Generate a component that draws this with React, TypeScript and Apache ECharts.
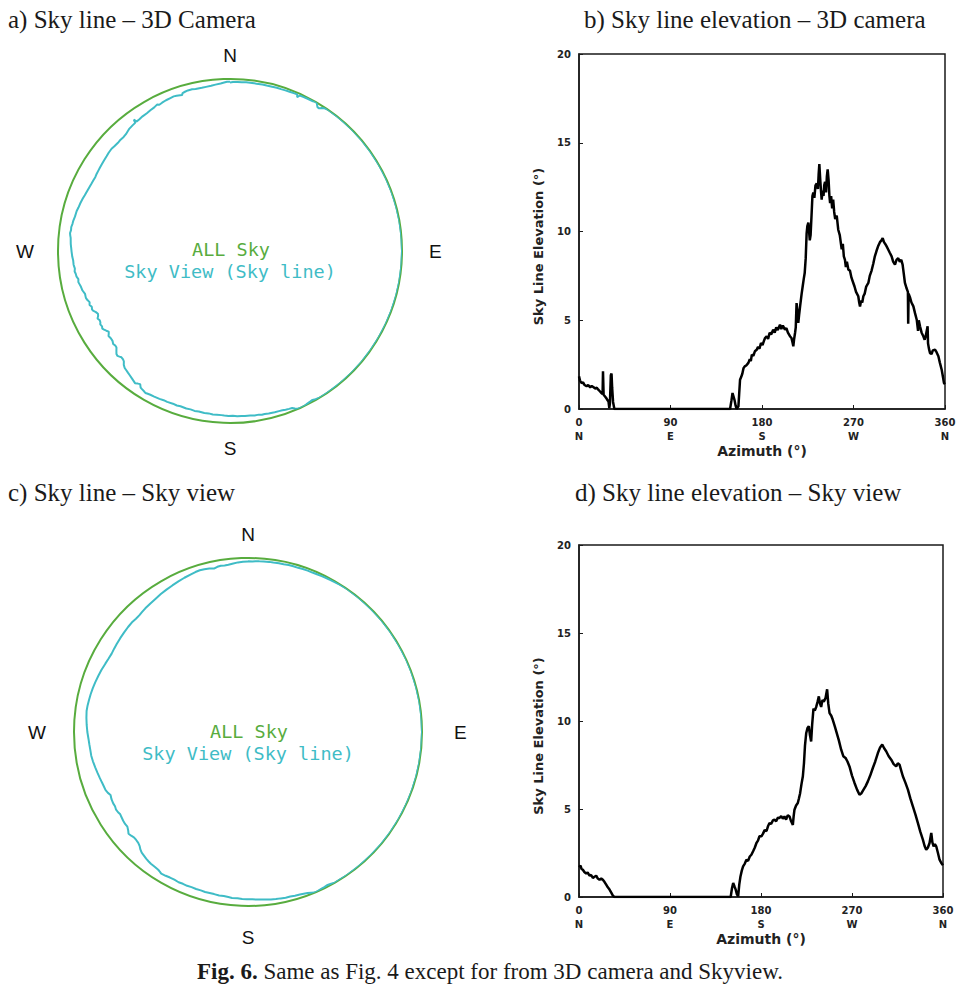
import React, { useEffect, useRef } from "react";
import * as echarts from "echarts";

// ---- data ----
const compassTicks = [0, 90, 180, 270];
const compassNames = ["N", "E", "S", "W"];
const compassStyles = ["n", "e", "s", "w"];
const azimuthTicks = [0, 90, 180, 270, 360];
const azimuthDirs = ["N", "E", "S", "W", "N"];

// [azimuth (deg), sky line elevation (deg)] – 3D camera
const cameraSkyline: [number, number][] = [
  [0, 1.84], [1, 1.6], [2.6, 1.46], [4, 1.5], [5.5, 1.35], [7.5, 1.28], [9, 1.35], [11, 1.22],
  [12.5, 1.3], [14, 1.24], [16, 1.15], [17.5, 1.2], [19, 1.09], [20.5, 1.0], [22, 0.9], [23.2, 0.85],
  [23.6, 2.12], [24.2, 0.8], [25.6, 0.7], [27, 0.6], [28, 0.5], [29, 0.43], [29.8, 0.05], [30.4, 0.3],
  [31.3, 1.9], [32, 2.0], [32.6, 1.2], [33.5, 0.4], [34.8, 0],
  [40, 0], [45, 0], [50, 0], [55, 0], [60, 0], [65, 0], [70, 0], [75, 0], [80, 0], [85, 0], [90, 0],
  [95, 0], [100, 0], [105, 0], [110, 0], [115, 0], [120, 0], [125, 0], [130, 0], [135, 0], [140, 0],
  [145, 0], [148.6, 0],
  [150, 0.5], [151, 0.9], [152, 0.7], [153, 0.5], [154, 0.2], [155, 0], [156.8, 0.15], [157.6, 0.9],
  [158.4, 1.65], [159.5, 1.8], [160.7, 2.0], [161.8, 2.3], [163, 2.4], [164.5, 2.45], [166.6, 2.6],
  [168, 2.8], [169, 2.7], [170, 3.06], [171.5, 3.0], [173, 3.25], [174.8, 3.34], [176, 3.5], [177.5, 3.4],
  [179, 3.72], [180.5, 3.6], [182, 3.85], [183, 4.0], [184.6, 4.1], [186, 3.95], [187.5, 4.3], [189, 4.2],
  [191, 4.47], [192.5, 4.3], [194, 4.6], [195.5, 4.45], [197.7, 4.75], [199, 4.5], [200.5, 4.7],
  [202.6, 4.47], [204, 4.55], [205.5, 4.3], [207.5, 4.1], [209, 4.0], [210.2, 3.7], [210.8, 3.53],
  [211.5, 3.9], [212.5, 4.28], [213.2, 4.6], [214, 5.97], [214.8, 5.5], [215.7, 4.85], [216.5, 5.3],
  [217.5, 5.8], [219, 6.5], [220, 6.9], [221, 7.3], [222, 7.66], [223, 8.5], [223.9, 9.9], [224.6, 10.3],
  [225.6, 10.5], [226.3, 10.0], [227, 9.5], [227.8, 9.8], [228.8, 11.0], [229.6, 12.0], [230.5, 12.2],
  [231.5, 11.9], [232.6, 12.6], [233.8, 12.7], [235, 12.4], [235.7, 13.2], [236.4, 13.8], [237.2, 13.0],
  [238, 12.3], [238.7, 11.8], [239.5, 12.3], [240.5, 12.0], [241.2, 12.6], [242, 12.8], [243, 12.2],
  [243.8, 13.1], [244.6, 13.5], [245.5, 12.9], [246.3, 12.0], [247, 11.6], [248, 12.0], [249, 11.3],
  [250, 11.8], [251, 11.1], [252, 10.7], [253.5, 10.9], [255, 10.1], [256.5, 9.8], [258.4, 9.0],
  [259.5, 9.3], [260.5, 8.6], [261.6, 8.4], [262.5, 8.0], [263.5, 8.3], [265, 7.85], [266.5, 7.8],
  [268, 7.4], [269.8, 7.1], [271, 6.9], [272.5, 6.6], [274.7, 6.35], [275.6, 6.0], [276.4, 5.78],
  [277.5, 6.1], [278.6, 6.0], [279.7, 6.35], [281, 6.5], [282.5, 6.9], [284.6, 7.1], [286, 7.5],
  [287.8, 7.8], [289.5, 8.2], [291, 8.6], [292.6, 8.9], [294.4, 9.2], [296, 9.4], [297.5, 9.5],
  [298.7, 9.63], [300, 9.4], [301.2, 9.3], [302.6, 9.16], [304, 9.0], [305.7, 8.8], [307.5, 8.6],
  [309, 8.3], [310.8, 8.13], [312.3, 8.4], [314, 8.5], [315.5, 8.3], [317, 8.4], [318.3, 8.13],
  [319.5, 7.6], [320.6, 7.1], [322.2, 6.8], [323.5, 6.6], [323.8, 4.8], [324.2, 6.5], [325.5, 6.3],
  [327, 6.0], [328.9, 5.78], [330.5, 5.4], [332.2, 5.03], [333.5, 4.4], [334.2, 5.0], [335.4, 4.66],
  [337, 4.3], [338.7, 4.1], [340, 3.9], [341, 4.1], [342.9, 4.66], [343.3, 3.7], [344.2, 3.4],
  [345.3, 3.15], [346.8, 3.1], [348, 3.3], [350.2, 3.34], [351.7, 3.2], [353.5, 2.97], [355, 2.6],
  [356.8, 2.2], [358, 1.8], [359, 1.46], [360, 1.4],
];

// [azimuth (deg), sky line elevation (deg)] – Sky view
const skyviewSkyline: [number, number][] = [
  [0, 1.7], [1.5, 1.78], [2.5, 1.6], [3.8, 1.55], [5.3, 1.42], [7.1, 1.33], [8.5, 1.4], [10.4, 1.21],
  [12, 1.25], [13.7, 1.08], [15.3, 1.15], [17, 1.21], [18.6, 1.05], [20.3, 0.98], [22, 1.05],
  [23.6, 0.98], [25.3, 0.85], [26.9, 0.7], [28.5, 0.55], [30.2, 0.42], [31.9, 0.25], [33.5, 0.08],
  [35, 0],
  [40, 0], [45, 0], [50, 0], [55, 0], [60, 0], [65, 0], [70, 0], [75, 0], [80, 0], [85, 0], [90, 0],
  [95, 0], [100, 0], [105, 0], [110, 0], [115, 0], [120, 0], [125, 0], [130, 0], [135, 0], [140, 0],
  [145, 0], [150, 0],
  [151.3, 0.5], [152.5, 0.8], [153.8, 0.6], [155, 0.42], [156.2, 0.15], [157.4, 0.04], [158.5, 0.7],
  [159.7, 1.17], [161, 1.5], [162.3, 1.74], [164, 1.9], [165.6, 2.12], [167.2, 2.05], [168.9, 2.3],
  [170.5, 2.4], [172.2, 2.6], [173.8, 2.8], [175.5, 3.07], [177, 3.2], [178.5, 3.45], [180.4, 3.45],
  [182, 3.6], [183.6, 3.8], [185.5, 3.75], [186.8, 4.0], [188.4, 4.2], [190, 4.15], [191.8, 4.35],
  [193.4, 4.4], [195, 4.3], [196.6, 4.5], [198.3, 4.49], [200, 4.6], [201.6, 4.45], [203.2, 4.58],
  [204.8, 4.4], [206.5, 4.65], [208.2, 4.58], [209.8, 4.3], [211.5, 4.1], [212.3, 4.6], [213.1, 4.96],
  [214.7, 5.2], [216.4, 5.34], [217.5, 5.6], [218.7, 5.9], [220, 6.4], [221.4, 6.86], [222.5, 7.6],
  [223.5, 8.6], [224.7, 9.3], [226, 9.6], [227.3, 9.7], [228.4, 9.2], [229.6, 8.84], [230.6, 9.8],
  [231.9, 10.7], [233.2, 10.6], [234.6, 10.8], [236, 11.1], [237.2, 11.4], [238.3, 11.0], [239.5, 10.8],
  [240.8, 11.2], [242.1, 11.1], [243.8, 11.3], [245.4, 11.8], [246.5, 11.0], [247.8, 10.45],
  [249.5, 10.3], [251, 10.07], [253, 9.7], [255, 9.3], [257, 8.9], [259.3, 8.37], [261.4, 8.0],
  [263.6, 7.9], [265.5, 7.7], [267.5, 7.42], [270, 6.9], [272.5, 6.48], [275, 6.1], [277.4, 5.81],
  [279.4, 5.9], [281.4, 6.1], [283.5, 6.3], [285.7, 6.57], [288, 6.9], [290.6, 7.33], [293, 7.7],
  [295.6, 8.18], [297.8, 8.5], [299.9, 8.66], [301.8, 8.45], [303.8, 8.28], [306.3, 8.0], [308.8, 7.8],
  [311.2, 7.55], [313.7, 7.42], [315.3, 7.6], [317, 7.52], [318.6, 7.2], [320.3, 6.86], [322.8, 6.5],
  [325.3, 6.1], [327.7, 5.6], [330.2, 5.15], [332.7, 4.7], [335.2, 4.2], [337.6, 3.7], [340.1, 3.26],
  [341.8, 2.9], [343.4, 2.69], [345, 2.8], [346.7, 3.07], [348.4, 3.64], [349.5, 3.1], [350.7, 2.88],
  [352, 3.0], [353.3, 2.88], [355, 2.5], [356.6, 2.12], [358.3, 1.93], [360, 1.8],
];

const GREEN = "#58ac3e";
const TEAL = "#3fbcc6";
const INK = "#1a1a1a";
const SANS = "DejaVu Sans";
const MONO = "DejaVu Sans Mono";
const SERIF = "Liberation Serif";

function polarAxes(idx: number, pad: { n: number; e: number; s: number; w: number }) {
  const compassFont = { fontSize: 19, fontFamily: "Liberation Sans", color: "#111" };
  return {
    angle: {
      polarIndex: idx,
      type: "value",
      min: 0,
      max: 360,
      interval: 90,
      startAngle: 90,
      clockwise: true,
      axisLine: { lineStyle: { color: GREEN, width: 2 } },
      axisTick: { show: false },
      splitLine: { show: false },
      splitArea: { show: false },
      axisLabel: {
        margin: 14,
        ...compassFont,
        formatter: (v: number) => {
          const i = compassTicks.indexOf(v);
          return i >= 0 ? `{${compassStyles[i]}|${compassNames[i]}}` : "";
        },
        rich: {
          n: { ...compassFont, padding: [0, 0, pad.n, 0] },
          s: { ...compassFont, padding: [pad.s, 0, 0, 0] },
          e: { ...compassFont, padding: [0, 0, 0, pad.e] },
          w: { ...compassFont, padding: [0, pad.w, 0, 0] },
        },
      },
    },
    radius: {
      polarIndex: idx,
      type: "value",
      min: 0,
      max: 90,
      inverse: true,
      show: false,
    },
  };
}

function cartAxes(idx: number) {
  const tickFont = { fontSize: 10, fontWeight: "bold", fontFamily: SANS, color: "#222" };
  return {
    x: {
      gridIndex: idx,
      type: "value",
      min: 0,
      max: 360,
      interval: 90,
      axisLine: { lineStyle: { color: INK, width: 1.5 } },
      axisTick: { inside: true, length: 4, lineStyle: { color: INK } },
      splitLine: { show: false },
      axisLabel: {
        margin: 6,
        ...tickFont,
        lineHeight: 14,
        formatter: (v: number) => {
          const i = azimuthTicks.indexOf(v);
          return `${v}\n${i >= 0 ? azimuthDirs[i] : ""}`;
        },
      },
      name: "Azimuth (°)",
      nameLocation: "middle",
      nameGap: 34,
      nameTextStyle: { fontSize: 14, fontWeight: "bold", fontFamily: SANS, color: "#222" },
    },
    y: {
      gridIndex: idx,
      type: "value",
      min: 0,
      max: 20,
      interval: 5,
      axisLine: { lineStyle: { color: INK, width: 1.5 } },
      axisTick: { inside: true, length: 4, lineStyle: { color: INK } },
      splitLine: { show: false },
      axisLabel: { margin: 8, ...tickFont },
      name: "Sky Line Elevation (°)",
      nameLocation: "middle",
      nameGap: 34,
      nameTextStyle: {
        fontSize: 13,
        fontWeight: "bold",
        fontFamily: SANS,
        color: "#222",
        padding: [0, 30, 0, 0],
      },
    },
  };
}

function titleText(x: number, y: number, text: string) {
  return {
    type: "text",
    x,
    y,
    style: { text, fontSize: 25, fontFamily: SERIF, fill: "#1a1a1a", textVerticalAlign: "middle" },
  };
}

function legendText(x: number, y: number, text: string, color: string) {
  return {
    type: "text",
    x,
    y,
    style: {
      text,
      fontSize: 18.5,
      fontFamily: MONO,
      fill: color,
      textAlign: "center",
      textVerticalAlign: "middle",
    },
  };
}

export default function App() {
  const ref = useRef<HTMLDivElement>(null);
  useEffect(() => {
    if (!ref.current) return;
    const chart = echarts.init(ref.current, undefined, { renderer: "svg" });
    const pa = polarAxes(0, { n: 0, e: 13, s: 2, w: 10 });
    const pc = polarAxes(1, { n: 0, e: 18, s: 8, w: 14 });
    const cb = cartAxes(0);
    const cd = cartAxes(1);
    const option: any = {
      animation: false,
      backgroundColor: "#ffffff",
      polar: [
        { center: [230, 251], radius: 172 },
        { center: [248, 732], radius: 174 },
      ],
      angleAxis: [pa.angle, pc.angle],
      radiusAxis: [pa.radius, pc.radius],
      grid: [
        { left: 579, top: 54, width: 366, height: 355, show: true, borderColor: INK, borderWidth: 1.5 },
        { left: 579, top: 545, width: 364, height: 352, show: true, borderColor: INK, borderWidth: 1.5 },
      ],
      xAxis: [cb.x, cd.x],
      yAxis: [cb.y, cd.y],
      series: [
        {
          type: "line",
          coordinateSystem: "polar",
          polarIndex: 0,
          data: cameraSkyline.map(([az, el]) => [el, az]),
          symbol: "none",
          lineStyle: { color: TEAL, width: 2 },
          z: 5,
        },
        {
          type: "line",
          coordinateSystem: "polar",
          polarIndex: 1,
          data: skyviewSkyline.map(([az, el]) => [el, az]),
          symbol: "none",
          lineStyle: { color: TEAL, width: 2 },
          z: 5,
        },
        {
          type: "line",
          xAxisIndex: 0,
          yAxisIndex: 0,
          data: cameraSkyline,
          symbol: "none",
          lineStyle: { color: "#000", width: 2.5 },
          z: 5,
        },
        {
          type: "line",
          xAxisIndex: 1,
          yAxisIndex: 1,
          data: skyviewSkyline,
          symbol: "none",
          lineStyle: { color: "#000", width: 2.5 },
          z: 5,
        },
      ],
      graphic: [
        titleText(8, 19, "a) Sky line – 3D Camera"),
        titleText(584, 19, "b) Sky line elevation – 3D camera"),
        titleText(8, 492, "c) Sky line – Sky view"),
        titleText(575, 492, "d) Sky line elevation – Sky view"),
        legendText(231, 249, "ALL Sky", GREEN),
        legendText(230, 271, "Sky View (Sky line)", TEAL),
        legendText(249, 731, "ALL Sky", GREEN),
        legendText(248, 753, "Sky View (Sky line)", TEAL),
        {
          type: "text",
          x: 490,
          y: 971,
          style: {
            text: "{b|Fig. 6.} Same as Fig. 4 except for from 3D camera and Skyview.",
            textAlign: "center",
            textVerticalAlign: "middle",
            fontSize: 23,
            fontFamily: SERIF,
            fill: "#1a1a1a",
            rich: {
              b: { fontSize: 23, fontFamily: SERIF, fontWeight: "bold", fill: "#1a1a1a" },
            },
          },
        },
      ],
    };
    chart.setOption(option);
    return () => chart.dispose();
  }, []);
  return (
    <div
      ref={ref}
      style={{ position: "absolute", left: 0, top: 0, width: 974, height: 994, background: "#fff" }}
    />
  );
}
